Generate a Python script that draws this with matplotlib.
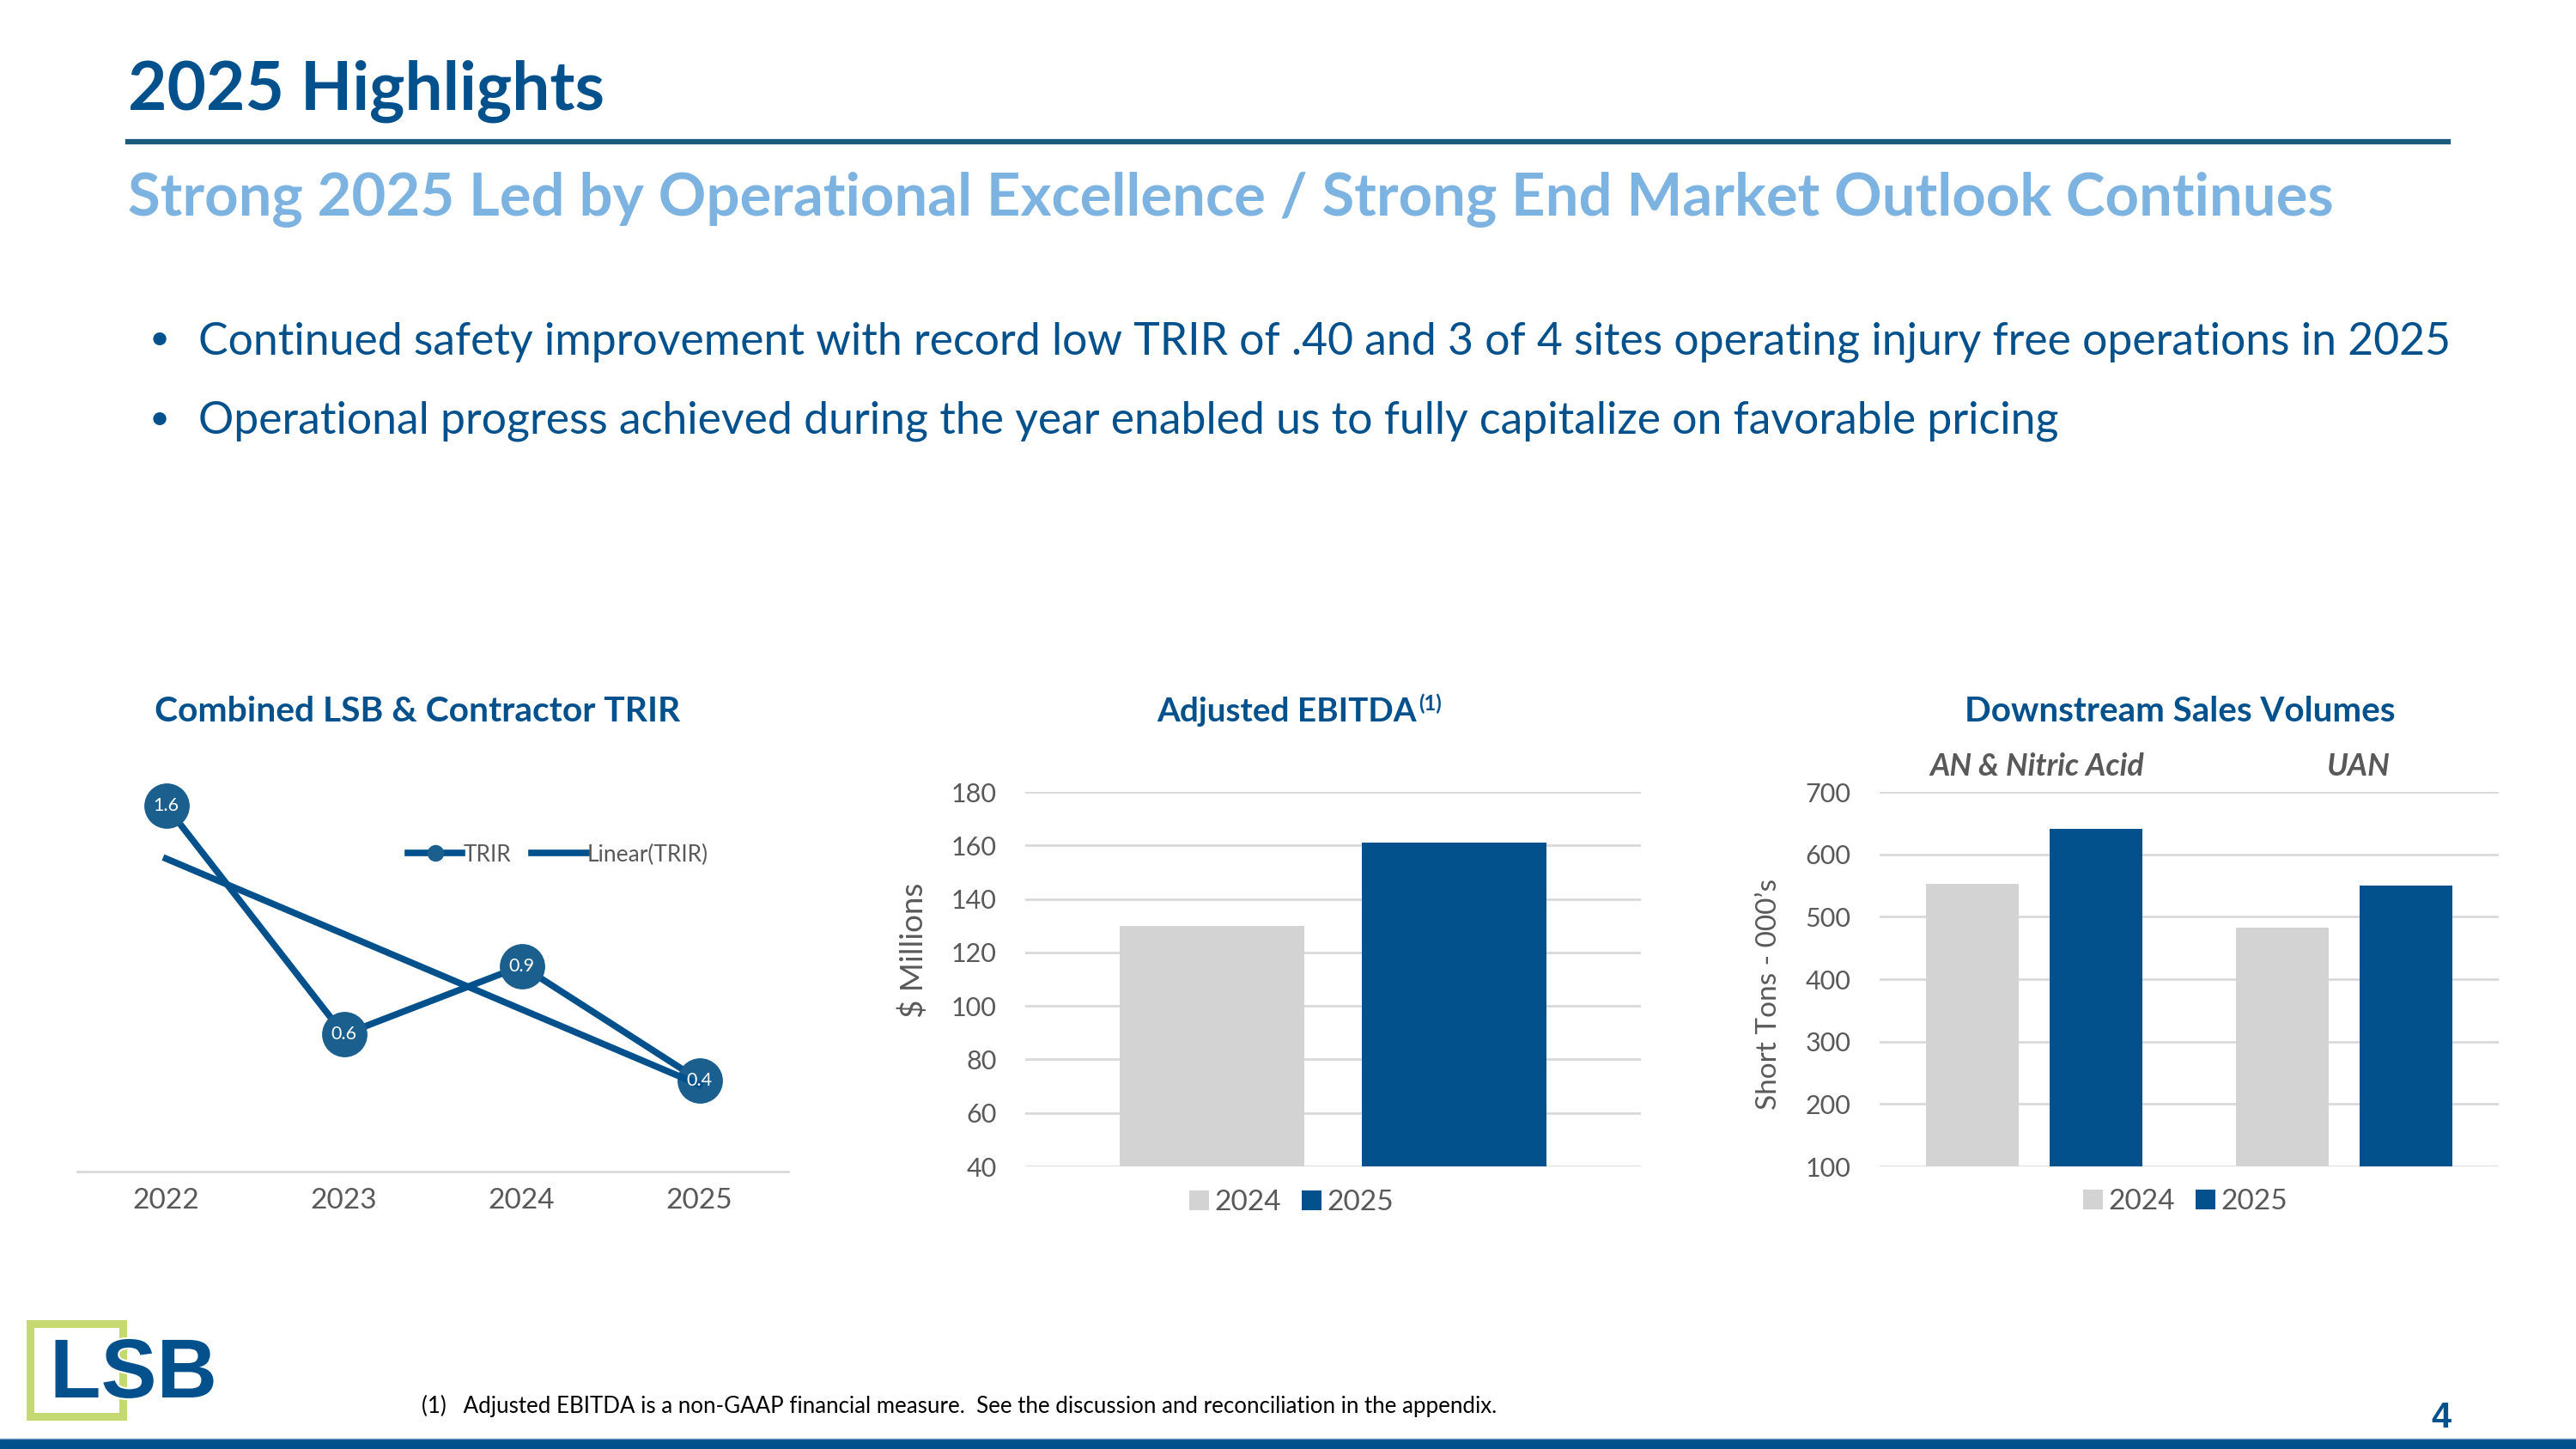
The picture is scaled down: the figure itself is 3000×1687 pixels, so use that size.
import numpy as np
import matplotlib
matplotlib.use("Agg")
import matplotlib.pyplot as plt
from matplotlib.patches import Rectangle
from matplotlib.lines import Line2D
import matplotlib.patheffects as pe

plt.rcParams["font.family"] = ["Lato", "DejaVu Sans"]

# Data
trir_years = ["2022", "2023", "2024", "2025"]
trir_values = [1.6, 0.6, 0.9, 0.4]

ebitda_years = ["2024", "2025"]
ebitda_values = [130, 161]

volume_products = ["AN & Nitric Acid", "UAN"]
volume_2024 = [553, 482]
volume_2025 = [641, 550]

bullets = [
    "Continued safety improvement with record low TRIR of .40 and 3 of 4 sites operating injury free operations in 2025",
    "Operational progress achieved during the year enabled us to fully capitalize on favorable pricing",
]

# Colours
BLUE = "#02508C"
MARK = "#1A5F8E"
LIGHT = "#7DB3E1"
GRAY_BAR = "#D3D3D3"
GRID = "#D9D9D9"
TXT = "#595959"
GREEN = "#C4D96F"

W, H = 3000, 1687
fig = plt.figure(figsize=(30, 16.87), dpi=100)
renderer = fig.canvas.get_renderer()


def fx(px):
    return px / W


def fy(py):
    return 1 - py / H


def fit(txt, width_px):
    w = txt.get_window_extent(renderer).width
    txt.set_fontsize(txt.get_fontsize() * width_px / w)


# Header
title = fig.text(fx(149), fy(128), "2025 Highlights", fontsize=44, weight="bold",
                 color=BLUE, va="baseline")
fit(title, 555)
fig.add_artist(Line2D([fx(149), fx(2851)], [fy(165), fy(165)], color="#1C5B7E",
                      lw=4.5, transform=fig.transFigure))
sub = fig.text(fx(149), fy(251),
               "Strong 2025 Led by Operational Excellence / Strong End Market Outlook Continues",
               fontsize=40, weight="bold", color=LIGHT, va="baseline")
fit(sub, 2570)

b1 = fig.text(fx(231), fy(413), bullets[0], fontsize=30, color=BLUE, va="baseline")
fit(b1, 2625)
b2 = fig.text(fx(231), fy(505), bullets[1], fontsize=b1.get_fontsize(), color=BLUE,
              va="baseline")
for yb in (396, 488):
    fig.text(fx(186), fy(yb), "\u2022", fontsize=b1.get_fontsize() * 0.8, color=BLUE,
             va="center", ha="center")

# Chart titles
t = fig.text(fx(486), fy(840), "Combined LSB & Contractor TRIR", fontsize=26,
             weight="bold", color=BLUE, ha="center", va="baseline")
fit(t, 612)
te = fig.text(fx(1347), fy(840), "Adjusted EBITDA", fontsize=26, weight="bold",
              color=BLUE, ha="left", va="baseline")
fit(te, 302)
bb = te.get_window_extent(renderer)
fig.text((bb.x1 + 2) / W, fy(827), "(1)", fontsize=te.get_fontsize() * 0.62,
         weight="bold", color=BLUE, ha="left", va="baseline")
t = fig.text(fx(2539), fy(840), "Downstream Sales Volumes", fontsize=26,
             weight="bold", color=BLUE, ha="center", va="baseline")
fit(t, 501)

# ---- TRIR line chart ----
ax1 = fig.add_axes([fx(90), fy(1364), (918 - 90) / W, (1364 - 872) / H])
x = np.arange(len(trir_years))
ax1.plot(x, trir_values, color=BLUE, lw=5.5, marker="o", ms=37, mfc=MARK, mec=MARK,
         zorder=2, clip_on=False)
trend = np.polyval(np.polyfit(x, trir_values, 1), x)
ax1.plot(x, trend, color=BLUE, lw=5.5, zorder=3, clip_on=False)
for xi, v in zip(x, trir_values):
    ax1.text(xi, v, f"{v:.1f}", color="white", ha="center", va="center",
             fontsize=15.5, zorder=4)
ax1.set_xlim(-0.5, 3.5)
ax1.set_ylim(0, 1.85)
ax1.set_xticks(x)
ax1.set_xticklabels(trir_years, fontsize=24, color=TXT)
ax1.tick_params(axis="x", length=0, pad=14)
ax1.set_yticks([])
for s in ("top", "right", "left"):
    ax1.spines[s].set_visible(False)
ax1.spines["bottom"].set_color(GRID)
ax1.spines["bottom"].set_linewidth(2)
handles = [
    Line2D([], [], color=BLUE, lw=5.5, marker="o", ms=13, mfc=MARK, mec=MARK),
    Line2D([], [], color=BLUE, lw=5.5),
]
ax1.legend(handles, ["TRIR", "Linear(TRIR)"], loc="center",
           bbox_to_anchor=(fx(650), fy(995)), bbox_transform=fig.transFigure,
           ncol=2, frameon=False, fontsize=19, labelcolor=TXT, handlelength=2.4,
           handletextpad=0.05, columnspacing=0.9)


def style_bar_axes(ax, ticks):
    ax.set_yticks(ticks)
    ax.tick_params(axis="y", length=0, pad=24, labelsize=22, labelcolor=TXT)
    ax.set_xticks([])
    for s in ax.spines.values():
        s.set_visible(False)
    ax.grid(axis="y", color=GRID, lw=2)
    ax.set_axisbelow(True)


def bar_legend(ax, cx, cy):
    ax.legend(loc="center", bbox_to_anchor=(fx(cx), fy(cy)),
              bbox_transform=fig.transFigure, ncol=2, frameon=False, fontsize=24,
              labelcolor=TXT, handlelength=0.7, handleheight=0.7,
              handletextpad=0.2, columnspacing=0.7)


# ---- Adjusted EBITDA ----
ax2 = fig.add_axes([fx(1194), fy(1358), (1911 - 1194) / W, (1358 - 922) / H])
colors = [GRAY_BAR, BLUE]
offsets = [-0.197, 0.197]
for yr, val, c, off in zip(ebitda_years, ebitda_values, colors, offsets):
    ax2.bar(off, val, width=0.30, color=c, label=yr)
ax2.set_xlim(-0.5, 0.5)
ax2.set_ylim(40, 180)
style_bar_axes(ax2, range(40, 181, 20))
fig.text(fx(1064), fy(1106), "$ Millions", rotation=90, ha="center", va="center",
         fontsize=26.5, color=TXT)
bar_legend(ax2, 1504, 1400)

# ---- Downstream Sales Volumes ----
ax3 = fig.add_axes([fx(2189), fy(1358), (2910 - 2189) / W, (1358 - 922) / H])
xp = np.arange(len(volume_products))
ax3.bar(xp - 0.2, volume_2024, width=0.30, color=GRAY_BAR, label="2024")
ax3.bar(xp + 0.2, volume_2025, width=0.30, color=BLUE, label="2025")
ax3.set_xlim(-0.5, 1.5)
ax3.set_ylim(100, 700)
style_bar_axes(ax3, range(100, 701, 100))
fig.text(fx(2060), fy(1157), "Short Tons - 000\u2019s", rotation=90, ha="center",
         va="center", fontsize=24, color=TXT)
g = fig.text(fx(2372), fy(903), volume_products[0], ha="center", va="baseline",
             fontsize=21, weight="bold", style="italic", color=TXT)
fit(g, 249)
fig.text(fx(2747), fy(903), volume_products[1], ha="center", va="baseline",
         fontsize=g.get_fontsize(), weight="bold", style="italic", color=TXT)
bar_legend(ax3, 2545, 1399)

# ---- Footer ----
fig.add_artist(Rectangle((fx(34.5), fy(1648.5)), (142.5 - 34.5) / W, (1648.5 - 1540.5) / H,
                         fill=False, ec=GREEN, lw=6.5, transform=fig.transFigure))
logo = fig.text(fx(58), fy(1627), "LSB", family="Liberation Sans", weight="bold",
                fontsize=66, color=BLUE, va="baseline", zorder=5)
fit(logo, 195)
logo.set_path_effects([pe.withStroke(linewidth=3, foreground="white")])

foot = fig.text(fx(491), fy(1645),
                "(1)   Adjusted EBITDA is a non-GAAP financial measure.  See the discussion and reconciliation in the appendix.",
                fontsize=16, color="black", va="baseline")
fit(foot, 1254)
fig.text(fx(2855), fy(1662), "4", family="Liberation Sans", weight="bold",
         fontsize=30, color=BLUE, ha="right", va="baseline")

fig.add_artist(Rectangle((0, 0), 1, 11 / H, color=BLUE, transform=fig.transFigure))
fig.add_artist(Line2D([0, 1], [fy(1675), fy(1675)], color="#6E97BD", lw=1,
                      transform=fig.transFigure))

fig.savefig("out.png", dpi=100)
